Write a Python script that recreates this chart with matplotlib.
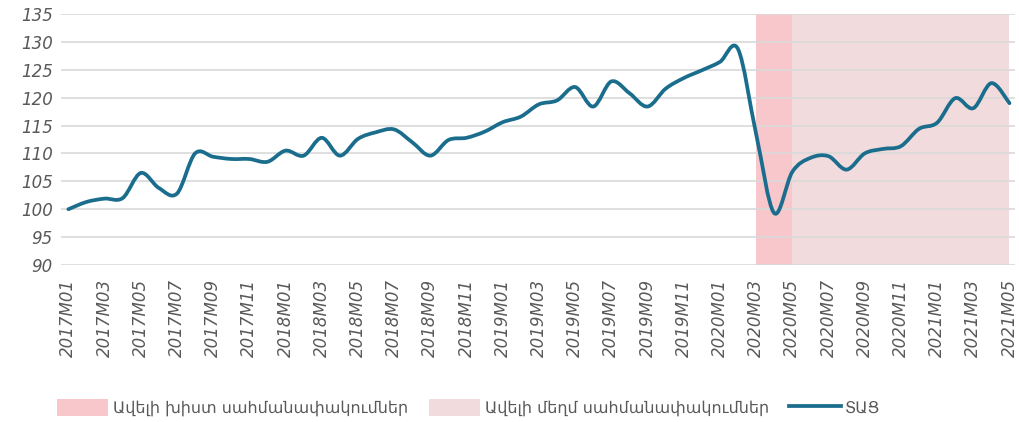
import matplotlib.pyplot as plt
from matplotlib.path import Path
from matplotlib.patches import PathPatch, Patch
from matplotlib.lines import Line2D

# data
months = [
    "2017M01", "2017M02", "2017M03", "2017M04", "2017M05", "2017M06", "2017M07", "2017M08", "2017M09", "2017M10", "2017M11", "2017M12",
    "2018M01", "2018M02", "2018M03", "2018M04", "2018M05", "2018M06", "2018M07", "2018M08", "2018M09", "2018M10", "2018M11", "2018M12",
    "2019M01", "2019M02", "2019M03", "2019M04", "2019M05", "2019M06", "2019M07", "2019M08", "2019M09", "2019M10", "2019M11", "2019M12",
    "2020M01", "2020M02", "2020M03", "2020M04", "2020M05", "2020M06", "2020M07", "2020M08", "2020M09", "2020M10", "2020M11", "2020M12",
    "2021M01", "2021M02", "2021M03", "2021M04", "2021M05",
]
tac = [
    100.0, 101.3, 101.9, 102.0, 106.5, 103.8, 102.8, 110.0, 109.4, 109.0, 109.0, 108.5,
    110.5, 109.6, 112.8, 109.6, 112.6, 113.8, 114.3, 112.0, 109.6, 112.4, 112.8, 113.9,
    115.6, 116.6, 118.8, 119.5, 121.9, 118.4, 122.9, 120.8, 118.4, 121.6, 123.5, 124.9,
    126.4, 128.7, 113.5, 99.3, 106.7, 109.2, 109.5, 107.1, 110.0, 110.8, 111.3, 114.4,
    115.5, 119.9, 118.1, 122.6, 119.0,
]
strict_period = ("2020M03", "2020M05")
mild_period = ("2020M05", "2021M05")

labels = ["Ավելի խիստ սահմանափակումներ", "Ավելի մեղմ սահմանափակումներ", "ՏԱՑ"]

line_color = "#1a6d8c"
strict_color = "#f7c7cb"
mild_color = "#f2dbdc"
text_color = "#595959"

fig = plt.figure(figsize=(10.19, 4.22), dpi=100)
ax = fig.add_axes([0.06, 0.372, 0.936, 0.595])

x = list(range(len(months)))

ax.axvspan(months.index(strict_period[0]), months.index(strict_period[1]), color=strict_color, lw=0, zorder=1)
ax.axvspan(months.index(mild_period[0]), months.index(mild_period[1]), color=mild_color, lw=0, zorder=1)

# smooth line (bezier through the points, like excel's smoothed line)
verts = [(x[0], tac[0])]
codes = [Path.MOVETO]
n = len(x)
for i in range(n - 1):
    p0 = (x[max(i - 1, 0)], tac[max(i - 1, 0)])
    p1 = (x[i], tac[i])
    p2 = (x[i + 1], tac[i + 1])
    p3 = (x[min(i + 2, n - 1)], tac[min(i + 2, n - 1)])
    c1 = (p1[0] + (p2[0] - p0[0]) / 6, p1[1] + (p2[1] - p0[1]) / 6)
    c2 = (p2[0] - (p3[0] - p1[0]) / 6, p2[1] - (p3[1] - p1[1]) / 6)
    verts += [c1, c2, p2]
    codes += [Path.CURVE4] * 3
ax.add_patch(PathPatch(Path(verts, codes), fill=False, edgecolor=line_color,
                       lw=2.7, capstyle="round", joinstyle="round", zorder=3))

ax.set_xlim(-0.4, 52.3)
ax.set_ylim(90, 135)
ax.set_yticks(range(90, 136, 5))
ax.set_xticks(x[::2])
ax.set_xticklabels(months[::2], rotation=90, ha="center", va="top",
                   fontsize=12, style="italic", color=text_color)
for t in ax.get_yticklabels():
    t.set_fontsize(12)
    t.set_style("italic")
    t.set_color(text_color)

ax.grid(axis="y", color="#d9d9d9", lw=1.2, zorder=2)
ax.set_axisbelow(False)
ax.tick_params(axis="y", length=0, pad=6)
ax.tick_params(axis="x", length=0, pad=10)
for s in ax.spines.values():
    s.set_visible(False)

handles = [
    Patch(facecolor=strict_color, edgecolor="none"),
    Patch(facecolor=mild_color, edgecolor="none"),
    Line2D([], [], color=line_color, lw=2.7),
]
fig.legend(handles, labels, loc="lower center", bbox_to_anchor=(0.46, -0.02), ncol=3,
           frameon=False, fontsize=11.5, labelcolor=text_color,
           handlelength=3.2, handleheight=1.3, handletextpad=0.3, columnspacing=1.3)

fig.savefig("out.png", dpi=100)
